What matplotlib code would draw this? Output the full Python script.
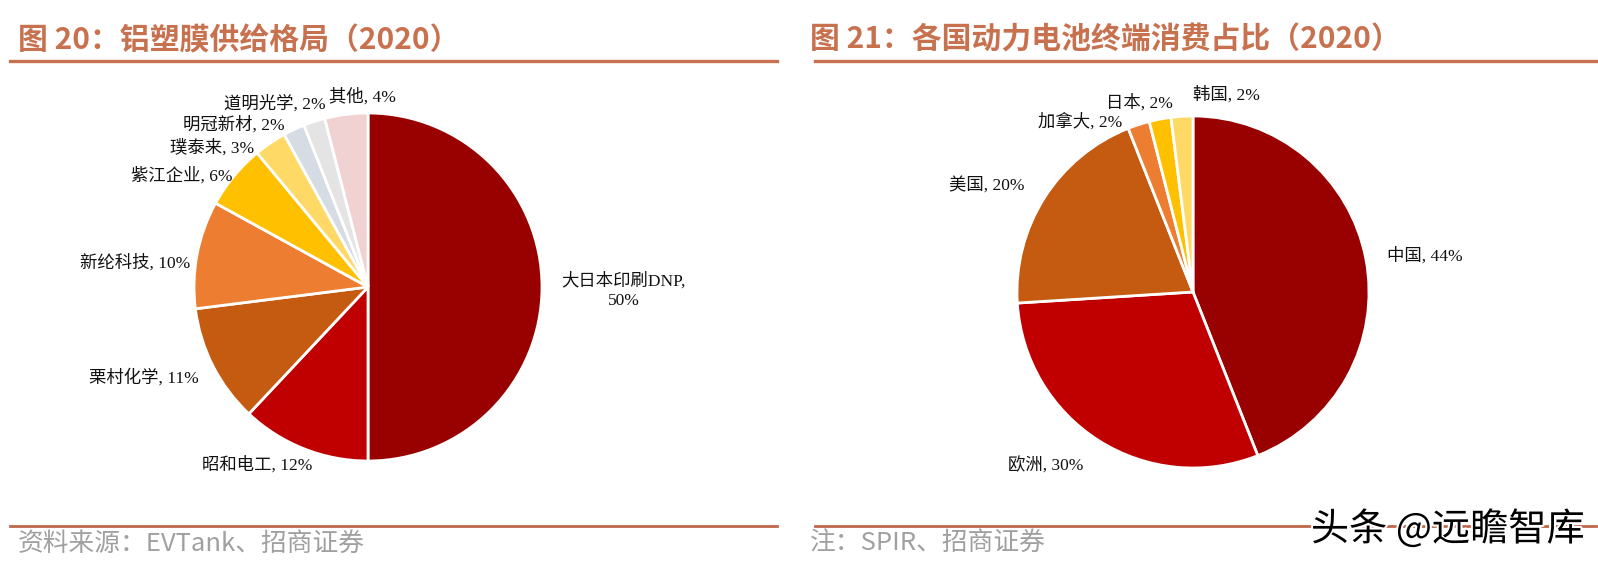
import matplotlib
matplotlib.use("Agg")
import matplotlib.pyplot as plt
import matplotlib.patheffects as pe
from matplotlib.lines import Line2D

# -------- data --------
left_names = ["大日本印刷DNP", "昭和电工", "栗村化学", "新纶科技", "紫江企业",
              "璞泰来", "明冠新材", "道明光学", "其他"]
left_values = [50, 12, 11, 10, 6, 3, 2, 2, 4]
left_colors = ["#990000", "#C00000", "#C55A11", "#ED7D31", "#FFC000",
               "#FFD966", "#D6DCE4", "#E4E4E4", "#F0D2D2"]

right_names = ["中国", "欧洲", "美国", "加拿大", "日本", "韩国"]
right_values = [44, 30, 20, 2, 2, 2]
right_colors = ["#990000", "#C00000", "#C55A11", "#ED7D31", "#FFC000", "#FFD966"]

left_title = "图 20：铝塑膜供给格局（2020）"
right_title = "图 21：各国动力电池终端消费占比（2020）"
left_source = "资料来源：EVTank、招商证券"
right_source = "注：SPIR、招商证券"

# label anchors in pie units (radius = 1) and alignment
left_label_pos = [(1.47, -0.02, "center"), (-0.32, -1.02, "right"), (-0.97, -0.52, "right"),
                  (-1.02, 0.14, "right"), (-0.78, 0.64, "right"), (-0.655, 0.80, "right"),
                  (-0.48, 0.93, "right"), (-0.245, 1.05, "right"), (0.16, 1.09, "right")]
right_label_pos = [(1.10, 0.205, "left"), (-0.625, -0.99, "right"), (-0.96, 0.60, "right"),
                   (-0.40, 0.965, "right"), (-0.115, 1.075, "right"), (0.0, 1.12, "left")]

W, H = 1598, 573
ACCENT = "#C8714F"
LABEL_FONT = ["Liberation Serif", "Noto Sans CJK SC"]
TITLE_FONT = ["Noto Sans CJK SC", "DejaVu Sans"]

fig = plt.figure(figsize=(W / 100, H / 100), dpi=100)


def pie_axes(cx, cy, r, half_w, half_h):
    # axes box in pixels, equal data scale (1 unit = r px)
    ax = fig.add_axes([(cx - half_w) / W, (H - cy - half_h) / H, 2 * half_w / W, 2 * half_h / H])
    return ax, (half_w / r, half_h / r)


def draw_pie(ax, lims, values, colors, names, label_pos, label_fmt):
    ax.pie(values, colors=colors, startangle=90, counterclock=False,
           wedgeprops=dict(edgecolor="white", linewidth=2.0))
    ax.set_xlim(-lims[0], lims[0])
    ax.set_ylim(-lims[1], lims[1])
    ax.set_aspect("auto")
    ax.axis("off")
    for name, v, (x, y, ha) in zip(names, values, label_pos):
        ax.text(x, y, label_fmt(name, v), ha=ha, va="center", fontsize=12.5,
                family=LABEL_FONT, color="#111111", linespacing=1.3)


ax1, lim1 = pie_axes(368, 287, 174, 320, 235)
draw_pie(ax1, lim1, left_values, left_colors, left_names, left_label_pos,
         lambda n, v: f"{n},\n{v}%" if v == 50 else f"{n}, {v}%")

ax2, lim2 = pie_axes(1193, 292, 176, 330, 235)
draw_pie(ax2, lim2, right_values, right_colors, right_names, right_label_pos,
         lambda n, v: f"{n}, {v}%")

# -------- titles, rules, sources --------
for x0, x1, tx, title, src in [(10, 777, 18, left_title, left_source),
                               (815, 1596, 810, right_title, right_source)]:
    fig.text(tx / W, 1 - 40 / H, title, ha="left", va="center", fontsize=21.5,
             fontweight="bold", color=ACCENT, family=TITLE_FONT)
    fig.add_artist(Line2D([x0 / W, x1 / W], [1 - 61 / H, 1 - 61 / H],
                          color=ACCENT, linewidth=2.4))
    fig.add_artist(Line2D([x0 / W, x1 / W], [1 - 526 / H, 1 - 526 / H],
                          color="#C0674A", linewidth=2.0))
    fig.text(tx / W, 1 - 544 / H, src, ha="left", va="center", fontsize=18.5,
             color="#A0A0A0", family=TITLE_FONT)

# watermark
fig.text(1585 / W, 1 - 530 / H, "头条 @远瞻智库", ha="right", va="center", fontsize=27.5,
         color="black", family=TITLE_FONT,
         path_effects=[pe.withStroke(linewidth=3, foreground="white")])

fig.savefig("out.png", dpi=100)
